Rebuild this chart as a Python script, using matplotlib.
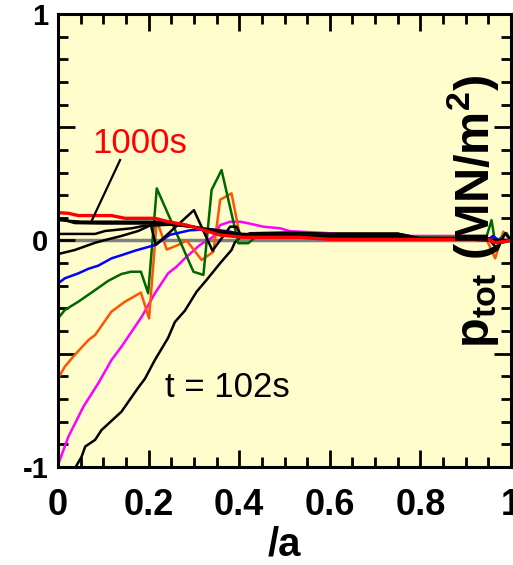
import matplotlib
matplotlib.use('Agg')
import matplotlib.pyplot as plt
from matplotlib.ticker import MultipleLocator, FixedLocator, FixedFormatter

plt.rcParams['font.family'] = ['Liberation Sans', 'DejaVu Sans']
plt.rcParams['mathtext.default'] = 'regular'

# profiles (x = rho/a, y = p_tot in MN/m^2)
x_102 = [0.0, 0.039, 0.052, 0.06, 0.082, 0.096, 0.14, 0.177, 0.192, 0.214, 0.243, 0.258, 0.28,
         0.306, 0.328, 0.358, 0.383, 0.39, 0.405, 0.45, 0.5, 0.6, 0.75, 0.8, 0.95, 1.0]
y_102 = [-1.14, -1.0, -0.955, -0.91, -0.88, -0.837, -0.756, -0.65, -0.61, -0.527, -0.43, -0.36, -0.31,
         -0.226, -0.174, -0.1, -0.042, -0.01, 0.02, 0.03, 0.03, 0.03, 0.03, 0.01, 0.01, 0.0]

x_mag = [0.0, 0.023, 0.056, 0.089, 0.118, 0.14, 0.185, 0.214, 0.243, 0.262, 0.28, 0.313, 0.343, 0.358,
         0.38, 0.402, 0.42, 0.453, 0.49, 0.512, 0.534, 0.6, 0.63, 0.7, 0.8, 0.894, 0.95, 1.0]
y_mag = [-0.99, -0.866, -0.734, -0.63, -0.528, -0.469, -0.336, -0.233, -0.145, -0.115, -0.079, -0.02,
         0.017, 0.068, 0.083, 0.083, 0.076, 0.061, 0.054, 0.041, 0.039, 0.032, 0.024, 0.02, 0.02, 0.02,
         0.01, 0.0]

x_org = [0.0, 0.015, 0.037, 0.067, 0.082, 0.118, 0.148, 0.183, 0.201, 0.218, 0.24, 0.265, 0.284, 0.317,
         0.343, 0.358, 0.383, 0.402, 0.45, 0.6, 0.75, 0.9, 0.945, 0.965, 0.983, 1.0]
y_org = [-0.61, -0.557, -0.505, -0.44, -0.417, -0.314, -0.27, -0.23, -0.344, 0.09, -0.04, -0.02, 0.0,
         -0.086, -0.05, 0.18, 0.208, 0.017, 0.015, 0.012, 0.012, 0.012, 0.01, -0.079, 0.039, 0.0]

x_grn = [0.0, 0.015, 0.045, 0.074, 0.111, 0.14, 0.161, 0.183, 0.199, 0.218, 0.299, 0.321, 0.339, 0.361,
         0.398, 0.42, 0.439, 0.5, 0.55, 0.6, 0.75, 0.9, 0.945, 0.957, 0.965, 0.99, 1.0]
y_grn = [-0.344, -0.307, -0.27, -0.23, -0.178, -0.148, -0.138, -0.138, -0.233, 0.23, -0.138, -0.152,
         0.223, 0.311, -0.012, -0.012, 0.02, 0.03, 0.03, 0.02, 0.015, 0.012, 0.01, 0.09, -0.01, 0.033, 0.0]

x_blu = [0.0, 0.015, 0.045, 0.067, 0.089, 0.118, 0.14, 0.17, 0.214, 0.247, 0.291, 0.336, 0.38, 0.417,
         0.5, 0.6, 0.7, 0.8, 0.9, 0.95, 0.96, 0.98, 1.0]
y_blu = [-0.19, -0.167, -0.145, -0.125, -0.111, -0.079, -0.065, -0.045, -0.02, 0.025, 0.045, 0.05,
         0.039, 0.02, 0.015, 0.012, 0.01, 0.008, 0.008, 0.005, 0.02, -0.01, 0.0]

x_blkA = [0.0, 0.037, 0.082, 0.104, 0.14, 0.177, 0.205, 0.216, 0.30, 0.341, 0.38, 0.394, 0.405, 0.424,
          0.5, 0.6, 0.75, 0.8, 0.95, 0.97, 0.987, 1.0]
y_blkA = [-0.06, -0.042, -0.01, 0.002, 0.02, 0.042, 0.068, -0.02, 0.134, -0.045, 0.061, 0.061, 0.017,
          0.032, 0.035, 0.03, 0.03, 0.01, 0.01, -0.04, 0.032, 0.0]

x_blkB = [0.0, 0.082, 0.104, 0.163, 0.188, 0.25, 0.3, 0.35, 0.4, 0.45, 0.6, 0.75, 0.8, 1.0]
y_blkB = [0.029, 0.029, 0.042, 0.054, 0.064, 0.07, 0.06, 0.045, 0.03, 0.025, 0.02, 0.02, 0.008, 0.0]

x_blkC = [0.0, 0.037, 0.1, 0.2, 0.25, 0.3, 0.35, 0.4, 0.45, 0.55, 0.75, 1.0]
y_blkC = [0.098, 0.077, 0.075, 0.075, 0.07, 0.06, 0.04, 0.025, 0.02, 0.015, 0.01, 0.0]

x_blkD = [0.0, 0.052, 0.15, 0.2, 0.24, 0.3, 0.35, 0.4, 0.5, 0.75, 1.0]
y_blkD = [0.09, 0.083, 0.083, 0.083, 0.08, 0.06, 0.035, 0.02, 0.015, 0.01, 0.0]

x_red = [0.0, 0.023, 0.045, 0.118, 0.148, 0.214, 0.243, 0.284, 0.321, 0.358, 0.409, 0.534, 0.6, 0.95,
         0.965, 1.0]
y_red = [0.123, 0.12, 0.11, 0.11, 0.098, 0.098, 0.083, 0.068, 0.046, 0.024, 0.014, 0.014, 0.005, 0.005,
         -0.01, 0.0]

x_ticks = [0, 0.2, 0.4, 0.6, 0.8, 1]
x_ticklabels = ['0', '0.2', '0.4', '0.6', '0.8', '1']
y_ticks = [-1, -0.5, 0, 0.5, 1]
y_ticklabels = ['-1', '', '0', '', '1']

fig = plt.figure(figsize=(5.13, 5.65), dpi=100)
ax = fig.add_axes([0.1131, 0.1735, 0.8830, 0.8017])
ax.set_facecolor('#FFFDCC')

ax.axhline(0, color='#808080', lw=2.5, zorder=1)

lw = 1.8
ax.plot(x_102, y_102, color='black', lw=lw)
ax.plot(x_mag, y_mag, color='#FF00FF', lw=lw)
ax.plot(x_org, y_org, color='#FF5500', lw=lw)
ax.plot(x_grn, y_grn, color='#006600', lw=lw)
ax.plot(x_blu, y_blu, color='#0000FF', lw=lw)
ax.plot(x_blkA, y_blkA, color='black', lw=lw)
ax.plot(x_blkB, y_blkB, color='black', lw=lw)
ax.plot(x_blkC, y_blkC, color='black', lw=lw)
ax.plot(x_blkD, y_blkD, color='black', lw=lw)
ax.plot(x_red, y_red, color='#FF0000', lw=2.4)

# pointer from the label to the last profile
ax.plot([0.137, 0.075], [0.355, 0.09], color='black', lw=1.6)
ax.text(0.075, 0.43, '1000s', color='#FF0000', fontsize=25, va='center', ha='left')
ax.text(0.236, -0.647, 't = 102s', color='black', fontsize=25, va='center', ha='left')

ax.text(0.916, 0.565, r'p$_{tot}$ (MN/m$^2$)', transform=ax.transAxes, rotation=90,
        fontsize=35, fontweight='bold', ha='center', va='center')

ax.set_xlim(0, 1)
ax.set_ylim(-1, 1)
ax.xaxis.set_major_locator(FixedLocator(x_ticks))
ax.xaxis.set_major_formatter(FixedFormatter(x_ticklabels))
ax.xaxis.set_minor_locator(MultipleLocator(0.05))
ax.yaxis.set_major_locator(FixedLocator(y_ticks))
ax.yaxis.set_major_formatter(FixedFormatter(y_ticklabels))
ax.yaxis.set_minor_locator(MultipleLocator(0.1))

ax.tick_params(which='both', direction='in', top=True, right=True, width=2)
ax.tick_params(which='major', length=12)
ax.tick_params(which='minor', length=7)
ax.tick_params(axis='x', which='major', labelsize=26, pad=15)
ax.tick_params(axis='y', which='major', labelsize=21, pad=7)
for lab in ax.get_xticklabels() + ax.get_yticklabels():
    lab.set_fontweight('bold')
for sp in ax.spines.values():
    sp.set_linewidth(2.2)

ax.set_xlabel('/a', fontsize=29, fontweight='bold', labelpad=2)

fig.savefig('out.png', dpi=100)
